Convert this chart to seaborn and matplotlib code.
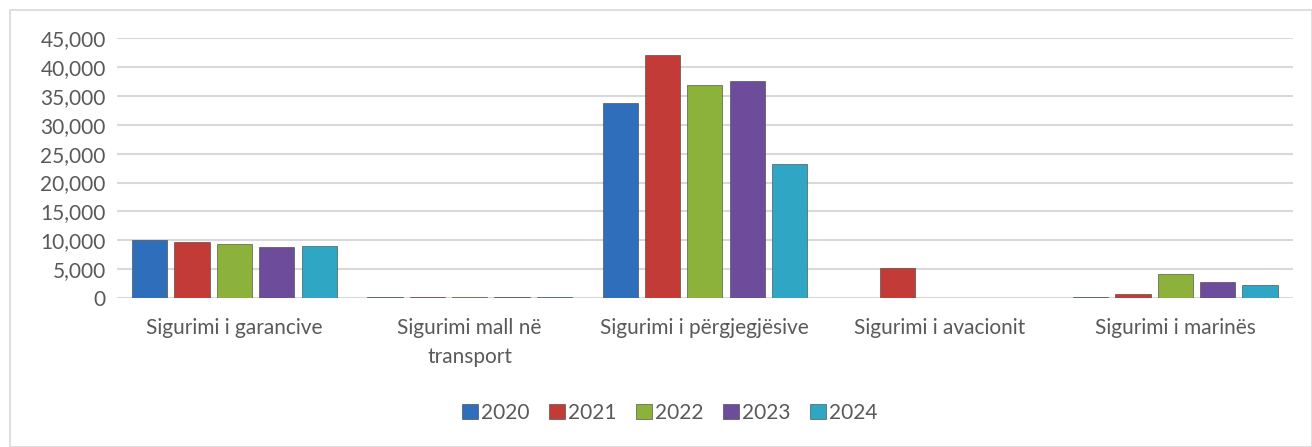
import pandas as pd
import seaborn as sns
import matplotlib.pyplot as plt
from matplotlib.patches import Rectangle
from matplotlib.ticker import FuncFormatter

# Te dhenat e lexuara nga grafiku
categories = ["Sigurimi i garancive", "Sigurimi mall në\ntransport",
              "Sigurimi i përgjegjësive", "Sigurimi i avacionit", "Sigurimi i marinës"]
years = ["2020", "2021", "2022", "2023", "2024"]
v2020 = [10000, 120, 33700, 0, 120]
v2021 = [9700, 120, 42050, 5200, 800]
v2022 = [9350, 120, 36850, 0, 4100]
v2023 = [8900, 120, 37600, 0, 2800]
v2024 = [9000, 120, 23200, 0, 2350]

colors = ["#2F6EBA", "#C23B36", "#8CB23C", "#6D4D9B", "#2FA6C4"]

rows = []
for year, vals in zip(years, [v2020, v2021, v2022, v2023, v2024]):
    for cat, v in zip(categories, vals):
        rows.append({"kategoria": cat, "viti": year, "vlera": v})
df = pd.DataFrame(rows)

sns.set_style("white")
plt.rcParams["font.family"] = ["Lato", "DejaVu Sans"]

fig = plt.figure(figsize=(13.12, 4.47), dpi=100)
ax = fig.add_axes([0.089, 0.333, 0.8965, 0.582])

sns.barplot(data=df, x="kategoria", y="vlera", hue="viti", palette=colors,
            saturation=1, width=0.9, gap=0.17, edgecolor="#3a3a3a", linewidth=0.4,
            ax=ax, zorder=3)

ax.set_ylim(0, 45000)
ax.set_yticks(range(0, 45001, 5000))
ax.yaxis.set_major_formatter(FuncFormatter(lambda v, p: f"{int(v):,}"))
ax.grid(axis="y", color="#D9D9D9", linewidth=1.5, zorder=0)
ax.set_axisbelow(True)
for s in ax.spines.values():
    s.set_visible(False)
ax.tick_params(axis="both", length=0, labelsize=15, labelcolor="#595959")
ax.tick_params(axis="x", pad=14)
ax.tick_params(axis="y", pad=8)
for lbl in ax.get_xticklabels():
    lbl.set_linespacing(1.6)
ax.set_xlabel("")
ax.set_ylabel("")

leg = ax.legend(loc="center", bbox_to_anchor=(0.47, -0.44), ncol=5, frameon=False,
                fontsize=15, handlelength=0.75, handleheight=0.75, handletextpad=0.15,
                columnspacing=0.95, labelcolor="#595959")

# kornizes e grafikut
fig.patches.append(Rectangle((10 / 1312, 0), 1 - 10 / 1312, 1 - 10 / 447,
                             transform=fig.transFigure, fill=False,
                             edgecolor="#D9D9D9", linewidth=1.2))

fig.savefig("out.png", dpi=100)
